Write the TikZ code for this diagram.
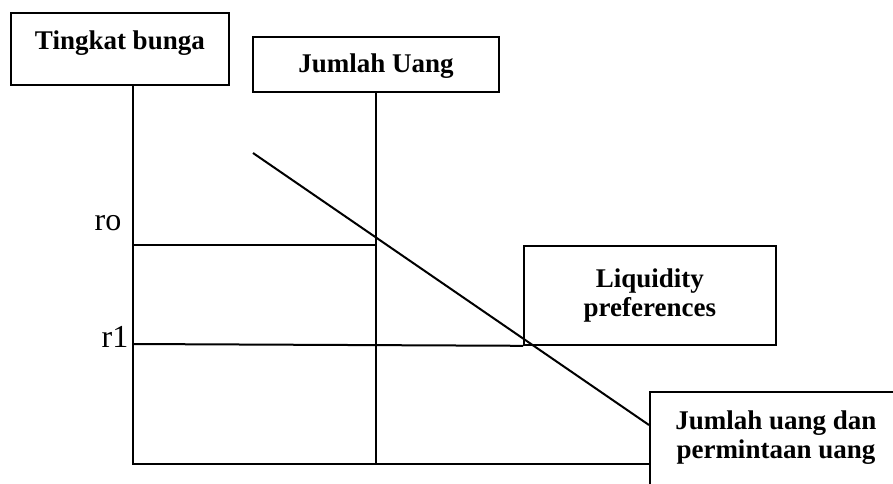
\documentclass[tikz,border=0pt]{standalone}
\usepackage{fontspec}
\setmainfont{Liberation Serif}
\usepackage{tikz}

\tikzset{
  labelbox/.style={draw, line width=1.8pt, inner sep=0pt, align=center,
    font=\fontsize{27}{29}\selectfont\bfseries},
  axisline/.style={line width=2pt},
  ratelabel/.style={anchor=base, inner sep=0pt, font=\fontsize{32}{34}\selectfont}
}

\begin{document}
\begin{tikzpicture}[x=1pt,y=1pt,yscale=-1,xscale=1]
  \useasboundingbox (0,0) rectangle (893,483);

  % Boxes
  \node (bunga) [labelbox, anchor=north west, minimum width=218pt,
    text height=37pt, text depth=35pt] at (10,12) {Tingkat bunga};
  \node (juang) [labelbox, anchor=north west, minimum width=246pt,
    text height=36pt, text depth=19pt] at (252,36) {Jumlah Uang};
  \node (liq) [labelbox, anchor=north west, minimum width=252pt,
    minimum height=99pt] at (523,245) {Liquidity\\preferences};
  \node (jup) [labelbox, anchor=north west, minimum width=252pt,
    text height=67pt, text depth=47pt] at (649,391) {Jumlah uang dan\\permintaan uang};

  % Coordinates
  \coordinate (o) at (133,464);
  \coordinate (r0) at (133,245);
  \coordinate (r1) at (133,344);
  \coordinate (lpstart) at (253,153);
  \coordinate (lpend) at (649,425);

  % Rate labels
  \node (rolbl) [ratelabel] at (108,230) {ro};
  \node (rilbl) [ratelabel] at (115,347) {r1};

  % Axes
  \draw [axisline] (o |- bunga.south) -- (o) -- (o -| jup.west);
  \draw [axisline] (juang.south) -- (juang.south |- o);

  % Rate lines
  \draw [axisline] (r0) -- (r0 -| juang.south);
  \draw [axisline] (r1) -- (liq.south west);

  % Liquidity preference curve
  \draw [axisline] (lpstart) -- (lpend);
\end{tikzpicture}
\end{document}
